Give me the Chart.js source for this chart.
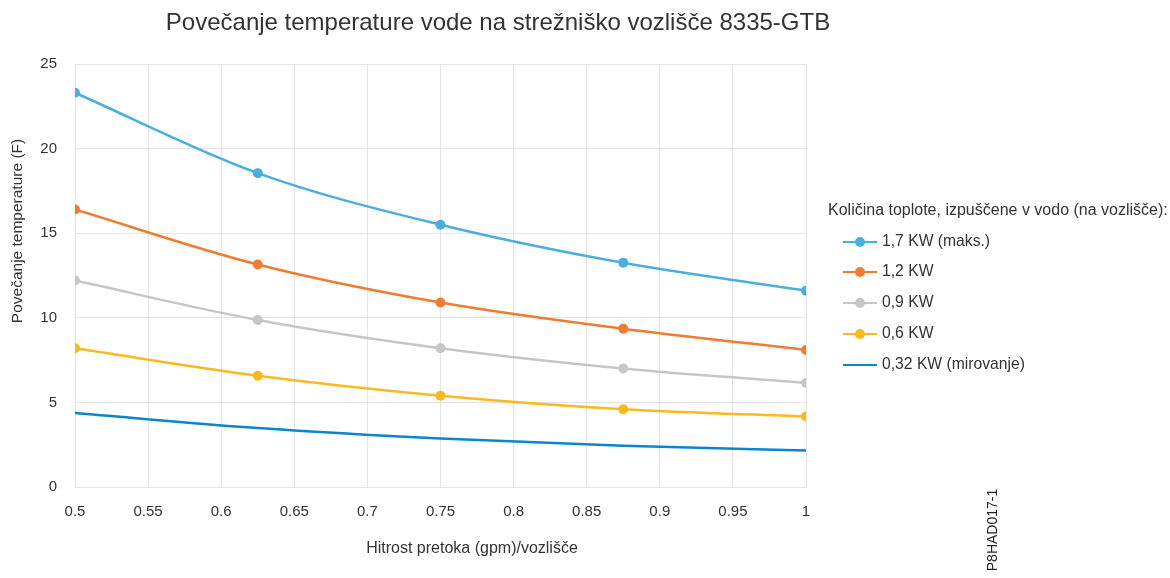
<!DOCTYPE html>
<html>
<head>
<meta charset="utf-8">
<script src="https://cdn.jsdelivr.net/npm/chart.js@4"></script>
<style>
  html, body { margin: 0; padding: 0; background: #fff; }
</style>
</head>
<body>
<canvas id="heatChart" width="1170" height="578"></canvas>
<script>
// Podatki
const flowRates = [0.5, 0.625, 0.75, 0.875, 1];
const heat17 = [23.3, 18.55, 15.5, 13.25, 11.6];
const heat12 = [16.4, 13.15, 10.9, 9.35, 8.1];
const heat09 = [12.2, 9.87, 8.2, 7.0, 6.15];
const heat06 = [8.2, 6.58, 5.4, 4.6, 4.17];
const heat032 = [4.37, 3.48, 2.86, 2.44, 2.15];
const seriesLabels = ['1,7 KW (maks.)', '1,2 KW', '0,9 KW', '0,6 KW', '0,32 KW (mirovanje)'];
const xTickValues = [0.5, 0.55, 0.6, 0.65, 0.7, 0.75, 0.8, 0.85, 0.9, 0.95, 1];
const yTickValues = [0, 5, 10, 15, 20, 25];

const chartTitle = 'Povečanje temperature vode na strežniško vozlišče 8335-GTB';
const xTitle = 'Hitrost pretoka (gpm)/vozlišče';
const yTitle = 'Povečanje temperature (F)';
const legendTitle = 'Količina toplote, izpuščene v vodo (na vozlišče):';
const figureId = 'P8HAD017-1';

const FONT = '"Liberation Sans", Arial, Helvetica, sans-serif';

function toPoints(values) {
    return flowRates.map((x, i) => ({ x: x, y: values[i] }));
}

function makeSeries(label, values, color, showPoints) {
    return {
        label: label,
        data: toPoints(values),
        borderColor: color,
        backgroundColor: color,
        borderWidth: 2.5,
        pointRadius: showPoints ? 5 : 0,
        pointHoverRadius: showPoints ? 5 : 0,
        pointBorderWidth: 0,
        cubicInterpolationMode: 'monotone',
        fill: false
    };
}

// Naslovi, legenda in oznaka slike
const extrasPlugin = {
    id: 'extras',
    afterDraw(chart) {
        const ctx = chart.ctx;
        ctx.save();
        ctx.fillStyle = '#333';
        ctx.textBaseline = 'middle';

        ctx.font = '24px ' + FONT;
        ctx.textAlign = 'center';
        ctx.fillText(chartTitle, 498, 23);

        ctx.font = '16px ' + FONT;
        ctx.fillText(xTitle, 472, 549);

        ctx.save();
        ctx.font = '15.5px ' + FONT;
        ctx.translate(18, 231);
        ctx.rotate(-Math.PI / 2);
        ctx.fillText(yTitle, 0, 0);
        ctx.restore();

        ctx.font = '16px ' + FONT;
        ctx.textAlign = 'left';
        ctx.fillText(legendTitle, 828, 211);

        const rowY = [242, 272, 303, 334, 365];
        chart.data.datasets.forEach((ds, i) => {
            const y = rowY[i];
            ctx.strokeStyle = ds.borderColor;
            ctx.lineWidth = 2;
            ctx.beginPath();
            ctx.moveTo(843, y);
            ctx.lineTo(877, y);
            ctx.stroke();
            if (ds.pointRadius > 0) {
                ctx.fillStyle = ds.backgroundColor;
                ctx.beginPath();
                ctx.arc(860, y, 5, 0, Math.PI * 2);
                ctx.fill();
            }
            ctx.fillStyle = '#333';
            ctx.font = '15.7px ' + FONT;
            ctx.fillText(ds.label, 882, y);
        });

        ctx.font = '14px ' + FONT;
        ctx.translate(993, 530);
        ctx.rotate(-Math.PI / 2);
        ctx.textAlign = 'center';
        ctx.fillStyle = '#222';
        ctx.fillText(figureId, 0, 0);
        ctx.restore();
    }
};

const ctx = document.getElementById('heatChart');
new Chart(ctx, {
    type: 'line',
    data: {
        datasets: [
            makeSeries(seriesLabels[0], heat17, '#4aaedf', true),
            makeSeries(seriesLabels[1], heat12, '#ee7d31', true),
            makeSeries(seriesLabels[2], heat09, '#c6c6c6', true),
            makeSeries(seriesLabels[3], heat06, '#fbb91f', true),
            makeSeries(seriesLabels[4], heat032, '#0a85cf', false)
        ]
    },
    options: {
        responsive: false,
        animation: false,
        layout: { padding: { top: 64, right: 364, left: 0, bottom: 0 } },
        plugins: {
            legend: { display: false },
            title: { display: false },
            tooltip: { enabled: false }
        },
        scales: {
            x: {
                type: 'linear',
                min: 0.5,
                max: 1,
                afterBuildTicks: s => { s.ticks = xTickValues.map(v => ({ value: v })); },
                afterFit: s => { s.height = 91; },
                grid: { color: '#e4e4e4', drawTicks: false },
                border: { color: '#e4e4e4' },
                ticks: {
                    color: '#333',
                    font: { family: FONT, size: 15 },
                    padding: 16,
                    maxRotation: 0,
                    callback: v => String(v)
                }
            },
            y: {
                min: 0,
                max: 25,
                afterBuildTicks: s => { s.ticks = yTickValues.map(v => ({ value: v })); },
                afterFit: s => { s.width = 75; },
                grid: { color: '#e4e4e4', drawTicks: false },
                border: { color: '#e4e4e4' },
                ticks: { color: '#333', font: { family: FONT, size: 15 }, padding: 18 }
            }
        }
    },
    plugins: [extrasPlugin]
});
</script>
</body>
</html>
